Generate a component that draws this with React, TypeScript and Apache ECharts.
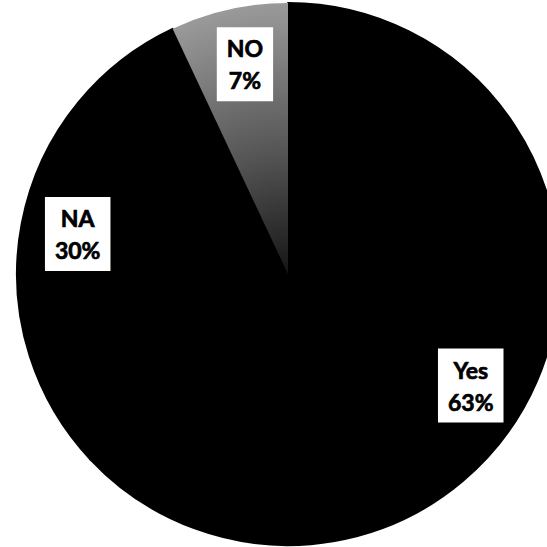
import React, { useEffect, useRef } from "react";
import * as echarts from "echarts";

// Survey answers, in clockwise order from 12 o'clock
const categories = ["Yes", "NA", "NO"];
const shares = [63, 30, 7];

const SIZE = 547;
const CENTER: [number, number] = [288, 274];
const RADIUS = 271;
// Labels sit near the outer end of each slice, along its middle angle
const LABEL_RADIUS = 0.79;
// Small angular nudge (degrees, clockwise) per label
const labelNudge = [8, 0, 1];

const sliceColors = [
  "#000000",
  "#000000",
  {
    type: "radial",
    x: CENTER[0],
    y: CENTER[1],
    r: RADIUS,
    global: true,
    colorStops: [
      { offset: 0, color: "#151515" },
      { offset: 0.45, color: "#555555" },
      { offset: 1, color: "#9a9a9a" },
    ],
  },
];
// The two black slices get a matching outline so no hairline seam shows between them
const sliceBorders = [2, 2, 0];

export default function App() {
  const ref = useRef<HTMLDivElement>(null);

  useEffect(() => {
    if (!ref.current) return;
    document.body.style.margin = "0";
    const chart = echarts.init(ref.current, null, { renderer: "svg" });

    const total = shares.reduce((a, b) => a + b, 0);
    const midAngles: number[] = [];
    let acc = 0;
    shares.forEach((v) => {
      midAngles.push(((acc + v / 2) / total) * 360);
      acc += v;
    });

    chart.setOption({
      animation: false,
      backgroundColor: "#ffffff",
      series: [
        {
          type: "pie",
          center: CENTER,
          radius: RADIUS,
          startAngle: 90,
          clockwise: true,
          silent: true,
          avoidLabelOverlap: false,
          label: {
            show: true,
            position: "inside",
            formatter: "{b}\n{d}%",
            color: "#000000",
            backgroundColor: "#ffffff",
            fontFamily: "Lato",
            fontWeight: "bold",
            fontSize: 23,
            lineHeight: 32,
            textBorderColor: "#000000",
            textBorderWidth: 0.7,
            padding: [5, 10, 5, 10],
            align: "center",
            verticalAlign: "middle",
          },
          labelLine: { show: false },
          labelLayout: (params: any) => {
            const i = params.dataIndex;
            const a = ((midAngles[i] + labelNudge[i]) * Math.PI) / 180;
            const d = RADIUS * LABEL_RADIUS;
            return {
              x: CENTER[0] + d * Math.sin(a),
              y: CENTER[1] - d * Math.cos(a),
              align: "center",
              verticalAlign: "middle",
            };
          },
          data: categories.map((name, i) => ({
            name,
            value: shares[i],
            itemStyle: {
              color: sliceColors[i],
              borderColor: "#000000",
              borderWidth: sliceBorders[i],
            },
          })),
        },
      ],
    });

    return () => chart.dispose();
  }, []);

  return (
    <div
      ref={ref}
      style={{ width: SIZE, height: SIZE, position: "absolute", left: 0, top: 0 }}
    />
  );
}
